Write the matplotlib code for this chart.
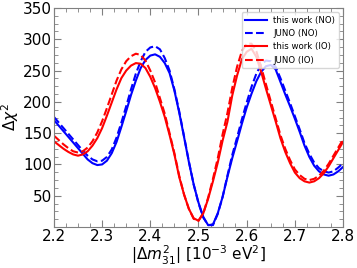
import matplotlib
matplotlib.use('Agg')
import matplotlib.pyplot as plt
import numpy as np
from matplotlib.ticker import AutoMinorLocator

# grid of |dm31^2| values (1e-3 eV^2)
dm31 = np.linspace(2.20, 2.80, 61)

# this work, normal ordering
this_no = [171, 162, 153, 144, 135, 126, 117, 108, 102, 99,
           100, 106, 118, 136, 160, 185, 211, 234, 254, 267,
           274, 276, 272, 262, 246, 218, 183, 144, 104, 68,
           39, 16, 3, 4, 22, 48, 80, 110, 137, 165,
           191, 213, 233, 248, 257, 259, 252, 232, 212, 193,
           173, 152, 130, 112, 98, 89, 84, 82, 84, 89,
           96]

# JUNO, normal ordering
juno_no = [176, 167, 158, 149, 140, 131, 122, 114, 108, 105,
           106, 112, 124, 143, 167, 193, 220, 245, 265, 280,
           287, 289, 284, 270, 250, 220, 185, 145, 105, 68,
           38, 15, 3, 3, 21, 48, 82, 115, 143, 172,
           199, 224, 245, 260, 266, 265, 256, 238, 218, 198,
           177, 156, 134, 117, 103, 94, 89, 87, 89, 95,
           102]

# this work, inverted ordering
this_io = [137, 131, 125, 120, 116, 114, 116, 121, 130, 142,
           158, 178, 199, 220, 238, 250, 258, 262, 261, 254,
           240, 222, 200, 176, 147, 116, 80, 52, 29, 14,
           10, 22, 45, 73, 103, 138, 168, 210, 242, 268,
           280, 285, 272, 248, 221, 195, 169, 142, 120, 102,
           87, 78, 73, 71, 73, 78, 86, 97, 110, 123,
           136]

# JUNO, inverted ordering
juno_io = [146, 139, 132, 126, 121, 119, 121, 127, 137, 151,
           169, 190, 212, 234, 252, 265, 273, 277, 275, 266,
           250, 231, 206, 181, 150, 118, 82, 52, 29, 13,
           10, 22, 47, 77, 110, 148, 182, 222, 256, 281,
           293, 293, 281, 256, 228, 201, 174, 147, 125, 107,
           92, 83, 77, 75, 77, 82, 90, 101, 114, 127,
           140]

fig = plt.figure(figsize=(3.57, 2.68), dpi=100)
ax = fig.add_axes([0.151, 0.153, 0.81, 0.817])

ax.plot(dm31, this_no, color='blue', lw=1.5, label='this work (NO)')
ax.plot(dm31, juno_no, color='blue', lw=1.5, ls='--', label='JUNO (NO)')
ax.plot(dm31, this_io, color='red', lw=1.5, label='this work (IO)')
ax.plot(dm31, juno_io, color='red', lw=1.5, ls='--', label='JUNO (IO)')

ax.set_xlim(2.2, 2.8)
ax.set_ylim(0, 350)
ax.set_xticks([2.2, 2.3, 2.4, 2.5, 2.6, 2.7, 2.8])
ax.set_yticks([50, 100, 150, 200, 250, 300, 350])
ax.xaxis.set_minor_locator(AutoMinorLocator(4))
ax.yaxis.set_minor_locator(AutoMinorLocator(4))
ax.tick_params(which='both', direction='in', top=True, right=True,
               color='grey', labelsize=11, pad=1.5)
ax.tick_params(which='major', length=5)
ax.tick_params(which='minor', length=3)
for s in ax.spines.values():
    s.set_color('grey')

ax.set_xlabel(r'$|\Delta m^2_{31}|$ [10$^{-3}$ eV$^2$]', fontsize=11, labelpad=0)
ax.set_ylabel(r'$\Delta\chi^2$', fontsize=11, labelpad=1)

ax.legend(loc='upper right', fontsize=6.2, handlelength=2.5)

fig.savefig('out.png', dpi=100)
